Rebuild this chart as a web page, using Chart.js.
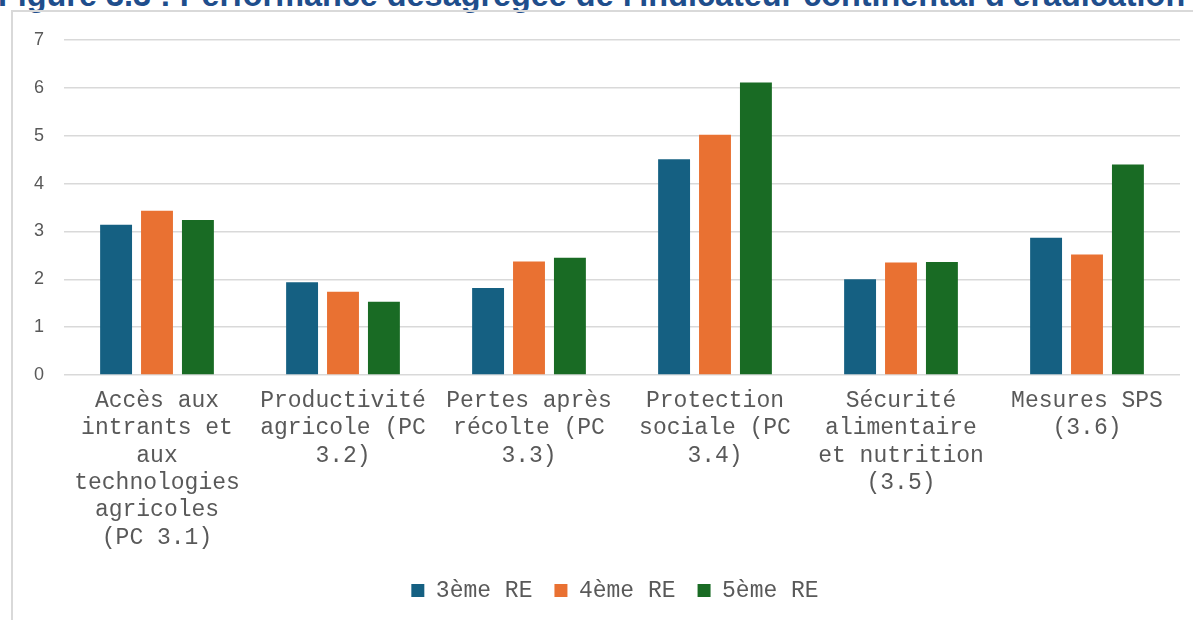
<!DOCTYPE html>
<html>
<head>
<meta charset="utf-8">
<script src="https://cdn.jsdelivr.net/npm/chart.js@4"></script>
<style>
  html, body { margin: 0; padding: 0; background: #fff; overflow: hidden; }
  #wrap { position: relative; width: 1193px; height: 620px; overflow: hidden; }
  #title {
    position: absolute; left: -2px; top: -21px; white-space: nowrap;
    font: bold 32.4px "Liberation Sans", Arial, sans-serif; line-height: 33px;
    color: #1f4e8c;
  }
  #frame {
    position: absolute; left: 11px; top: 10px; width: 1300px; height: 800px;
    border: 2px solid #d9d9d9;
  }
  #chart { position: absolute; left: 0; top: 0; }
</style>
</head>
<body>
<div id="wrap">
  <div id="title">Figure 3.3 : Performance désagrégée de l'indicateur continental d'éradication</div>
  <div id="frame"></div>
  <canvas id="chart" width="1193" height="620"></canvas>
</div>
<script>
const categories = [
  ["Accès aux", "intrants et", "aux", "technologies", "agricoles", "(PC 3.1)"],
  ["Productivité", "agricole (PC", "3.2)"],
  ["Pertes après", "récolte (PC", "3.3)"],
  ["Protection", "sociale (PC", "3.4)"],
  ["Sécurité", "alimentaire", "et nutrition", "(3.5)"],
  ["Mesures SPS", "(3.6)"]
];
const seriesNames = ["3ème RE", "4ème RE", "5ème RE"];
const re3 = [3.14, 1.94, 1.82, 4.51, 2.00, 2.87];
const re4 = [3.43, 1.74, 2.37, 5.02, 2.35, 2.52];
const re5 = [3.24, 1.53, 2.45, 6.11, 2.36, 4.40];
const yTicks = [0, 1, 2, 3, 4, 5, 6, 7];

const colors = ["#156082", "#e97132", "#196b24"];
const mono = "'Liberation Mono', 'Courier New', monospace";

// nudge the legend a bit to the right, like in the original
const legendShift = {
  id: "legendShift",
  afterLayout(chart) {
    if (chart.legend) {
      chart.legend.left += 25;
      chart.legend.right += 25;
    }
  }
};

const ctx = document.getElementById("chart").getContext("2d");
new Chart(ctx, {
  type: "bar",
  data: {
    labels: categories,
    datasets: [re3, re4, re5].map((d, i) => ({
      label: seriesNames[i],
      data: d,
      backgroundColor: colors[i],
      categoryPercentage: 0.66,
      barPercentage: 0.78
    }))
  },
  plugins: [legendShift],
  options: {
    responsive: false,
    animation: false,
    layout: { padding: { top: 40, right: 13, bottom: 8, left: 0 } },
    plugins: {
      title: { display: false },
      tooltip: { enabled: false },
      legend: {
        position: "bottom",
        labels: {
          boxWidth: 13,
          boxHeight: 13,
          padding: 22,
          color: "#595959",
          font: { family: mono, size: 23 }
        }
      }
    },
    scales: {
      x: {
        grid: { display: false, drawTicks: false },
        border: { display: false },
        ticks: {
          color: "#595959",
          padding: 12,
          maxRotation: 0,
          autoSkip: false,
          font: { family: mono, size: 23, lineHeight: 1.19 }
        },
        afterFit: (s) => { s.height = 182; }
      },
      y: {
        min: 0,
        max: 7,
        grid: { color: "#d9d9d9", lineWidth: 1.5, drawTicks: false },
        border: { display: false },
        ticks: {
          stepSize: 1,
          padding: 20,
          color: "#595959",
          font: { family: "'Liberation Sans', Arial, sans-serif", size: 18 },
          callback: (v) => (yTicks.includes(v) ? v : "")
        },
        afterFit: (s) => { s.width = 64; }
      }
    }
  }
});
</script>
</body>
</html>
